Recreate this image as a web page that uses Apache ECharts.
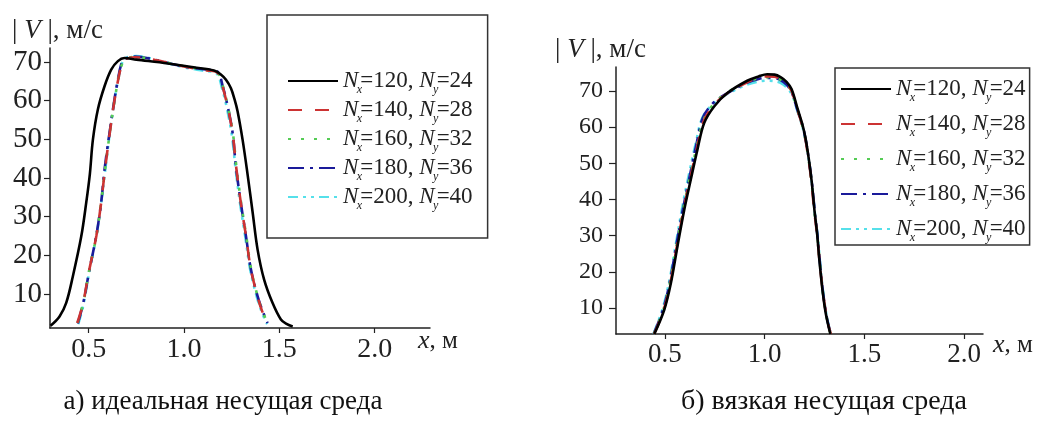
<!DOCTYPE html>
<html>
<head>
<meta charset="utf-8">
<script src="https://cdn.jsdelivr.net/npm/echarts@6/dist/echarts.min.js"></script>
<style>
html,body{margin:0;padding:0;background:#fff;}
#c{width:1043px;height:423px;}
</style>
</head>
<body>
<div id="c"></div>
<script>
// ---- data ----
const nxValues = [120, 140, 160, 180, 200];
const nyValues = [24, 28, 32, 36, 40];
const xTicks = [0.5, 1.0, 1.5, 2.0];
const yTicks = [10, 20, 30, 40, 50, 60, 70];

// (a) ideal carrier medium
const idealN120 = [[0.30,1.8],[0.347,4.2],[0.382,7.7],[0.417,14.6],[0.461,24.9],[0.487,33.6],[0.506,41],[0.522,49.9],[0.548,57.7],[0.583,63.7],[0.618,68],[0.653,70.2],[0.687,71.0],[0.75,70.6],[0.915,69.6],[1.05,68.6],[1.157,67.8],[1.19,66.9],[1.22,65.4],[1.246,63.2],[1.265,60.3],[1.281,57.2],[1.307,49.9],[1.333,41],[1.36,31],[1.386,21.4],[1.42,13.7],[1.464,7.7],[1.508,3.4],[1.54,2.2],[1.57,1.6]];
const idealN140 = [[0.44,2.5],[0.47,7.5],[0.50,15.5],[0.54,25],[0.565,33.5],[0.585,42],[0.61,51.5],[0.635,60],[0.655,65.5],[0.672,69],[0.69,70.6],[0.74,71.2],[0.85,70.5],[1.0,68.8],[1.12,67.8],[1.175,67.2],[1.2,64],[1.228,58.5],[1.255,51.5],[1.273,43],[1.298,33.5],[1.325,25],[1.35,16.5],[1.385,9.5],[1.41,5.5],[1.44,2.3]];
const idealN160 = [[0.442,2.6],[0.472,7.8],[0.502,16],[0.541,25.2],[0.566,34],[0.586,42.3],[0.611,51.8],[0.636,60.2],[0.656,65.7],[0.673,69.2],[0.69,70.7],[0.745,71.3],[0.86,70.3],[1.0,68.9],[1.12,67.9],[1.176,67.3],[1.201,64.2],[1.229,58.7],[1.256,51.7],[1.274,43.2],[1.299,33.7],[1.326,25.1],[1.352,16.4],[1.386,9.4],[1.412,5.4],[1.442,2.2]];
const idealN180 = [[0.443,2.4],[0.471,7.6],[0.504,16.3],[0.539,24.9],[0.565,33.5],[0.583,42.2],[0.609,51.6],[0.635,60.3],[0.653,65.4],[0.67,69.3],[0.687,70.6],[0.74,71.4],[0.845,70.6],[1.0,68.8],[1.124,68],[1.176,67.5],[1.203,63.7],[1.229,58.5],[1.255,51.6],[1.272,43],[1.298,33.5],[1.325,24.9],[1.351,16.3],[1.386,9.4],[1.415,5.2],[1.438,2.5]];
const idealN200 = [[0.445,2.2],[0.473,7.4],[0.503,15.8],[0.542,25.5],[0.567,34.2],[0.588,42.6],[0.612,52.2],[0.637,60.6],[0.657,66],[0.674,69.6],[0.692,71],[0.75,71.5],[0.86,70.4],[1.0,68.6],[1.118,67.6],[1.172,67],[1.198,63.4],[1.225,58],[1.251,51],[1.27,42.5],[1.295,33],[1.322,24.5],[1.348,16],[1.382,9.2],[1.41,5],[1.436,2.2]];

// (б) viscous carrier medium
const viscousN120 = [[0.447,2.8],[0.497,9.5],[0.53,16.8],[0.563,27],[0.597,37.1],[0.63,45.5],[0.663,53.7],[0.697,61.1],[0.747,65.7],[0.813,69.4],[0.913,72.8],[0.97,74],[1.013,74.6],[1.05,74.5],[1.08,73.8],[1.11,72.5],[1.135,70.5],[1.163,65.5],[1.188,61],[1.205,57],[1.222,51],[1.236,45],[1.25,37],[1.263,30.7],[1.275,23],[1.29,15],[1.305,9],[1.32,5],[1.33,2.8]];
const viscousN140 = [[0.446,2.8],[0.495,9.6],[0.528,17],[0.561,27.2],[0.595,37.4],[0.628,46],[0.661,54.2],[0.695,61.6],[0.745,66],[0.81,69.2],[0.91,72.3],[0.97,73.6],[1.015,74],[1.05,73.9],[1.08,73.3],[1.11,72],[1.135,70],[1.162,65.2],[1.187,60.8],[1.204,56.8],[1.221,50.8],[1.235,44.8],[1.249,36.8],[1.263,30.4],[1.276,22.6],[1.292,14.6],[1.307,8.8],[1.322,4.8],[1.332,2.8]];
const viscousN160 = [[0.445,2.8],[0.494,9.8],[0.527,17.3],[0.56,27.6],[0.594,37.8],[0.627,46.4],[0.66,54.6],[0.693,61.8],[0.742,66.2],[0.81,69.4],[0.91,72.4],[0.97,73.5],[1.015,73.8],[1.05,73.7],[1.08,73.1],[1.11,71.8],[1.136,69.8],[1.163,65],[1.188,60.6],[1.205,56.5],[1.222,50.5],[1.236,44.5],[1.25,36.6],[1.264,30.2],[1.277,22.4],[1.292,14.4],[1.307,8.7],[1.322,4.7],[1.331,2.8]];
const viscousN180 = [[0.444,2.8],[0.493,9.9],[0.526,17.5],[0.559,27.8],[0.593,38],[0.626,46.8],[0.658,55.2],[0.69,62.5],[0.738,66.4],[0.808,69.2],[0.91,72.2],[0.97,73.3],[1.015,73.6],[1.05,73.5],[1.08,73],[1.11,71.7],[1.136,69.6],[1.164,64.8],[1.19,60.4],[1.207,56.2],[1.224,50.2],[1.238,44.2],[1.252,36.4],[1.265,30],[1.278,22.2],[1.293,14.2],[1.308,8.6],[1.323,4.6],[1.333,2.8]];
const viscousN200 = [[0.443,2.8],[0.491,10.2],[0.524,17.9],[0.557,28.3],[0.59,38.6],[0.623,47.5],[0.656,55.8],[0.688,62.6],[0.738,66.2],[0.805,68.9],[0.905,71.6],[0.97,72.6],[1.015,72.8],[1.05,72.7],[1.08,72.2],[1.11,71],[1.137,69],[1.165,64.4],[1.19,60],[1.207,56],[1.224,50],[1.238,44],[1.252,36.2],[1.266,29.8],[1.279,22],[1.294,14],[1.309,8.5],[1.324,4.5],[1.334,2.8]];

const idealData = [idealN120, idealN140, idealN160, idealN180, idealN200];
const viscousData = [viscousN120, viscousN140, viscousN160, viscousN180, viscousN200];
const captions = ['а) идеальная несущая среда', 'б) вязкая несущая среда'];

// ---- styles ----
const SERIF = '"Liberation Serif", "Times New Roman", serif';
const colors = ['#000000', '#cc3333', '#55cc55', '#1a1a9a', '#55e0ea'];
const dashes = ['solid', [14, 13], [3, 10], [16, 6, 3, 6], [10, 5, 3, 5, 3, 5]];
const widths = [2.6, 2.6, 2.6, 2.6, 2.6];
const names = nxValues.map((nx, i) => 'Nx=' + nx + ', Ny=' + nyValues[i]);

function legendFmt(name) {
  const m = name.match(/Nx=(\d+), Ny=(\d+)/);
  return '{i|N}{s|x}{r|=' + m[1] + ', }{i|N}{s|y}{r|=' + m[2] + '}';
}
const legendRich = {
  i: { fontFamily: SERIF, fontStyle: 'italic', fontSize: 23, lineHeight: 24, color: '#222' },
  r: { fontFamily: SERIF, fontSize: 23, lineHeight: 24, color: '#222' },
  s: { fontFamily: SERIF, fontStyle: 'italic', fontSize: 12, lineHeight: 10, color: '#222', padding: [18, 0, 0, 0], width: 2, align: 'right' }
};

function makeSeries(dataSets, idx) {
  return dataSets.map((d, i) => ({
    type: 'line',
    name: names[i],
    xAxisIndex: idx, yAxisIndex: idx,
    data: d,
    symbol: 'none',
    smooth: 0.35,
    z: 10 - i,
    lineStyle: { color: colors[i], width: widths[i], type: dashes[i] },
    itemStyle: { color: colors[i] }
  }));
}

function xAxisCfg(idx, min, max, fs, margin) {
  return {
    type: 'value', gridIndex: idx, min: min, max: max,
    name: '{i|x}{r|, м}', nameLocation: 'end',
    nameGap: idx === 0 ? -12 : 10,
    nameTextStyle: { verticalAlign: 'top', padding: [idx === 0 ? 0 : -2, 0, 0, 0], rich: {
      i: { fontFamily: SERIF, fontSize: 26, fontStyle: 'italic', color: '#222' },
      r: { fontFamily: SERIF, fontSize: 25, color: '#222' } } },
    axisLine: { show: true, onZero: false, lineStyle: { color: '#222', width: 1.5 } },
    axisTick: { show: true, customValues: xTicks, length: 5, lineStyle: { color: '#222', width: 1.2 } },
    axisLabel: { customValues: xTicks, formatter: v => v.toFixed(1), fontFamily: SERIF, fontSize: fs, color: '#222', margin: margin },
    splitLine: { show: false }
  };
}
function yAxisCfg(idx, min, max, fs, tickLen, margin, nameShift) {
  return {
    type: 'value', gridIndex: idx, min: min, max: max,
    name: '{b||}{v| V }{b||, м/с}', nameLocation: 'end', nameGap: 4,
    nameTextStyle: { align: 'left', padding: [0, 0, 0, nameShift], rich: {
      b: { fontFamily: SERIF, fontSize: 27, color: '#222' },
      v: { fontFamily: SERIF, fontSize: 27, fontStyle: 'italic', color: '#222' } } },
    axisLine: { show: true, onZero: false, lineStyle: { color: '#222', width: 1.5 } },
    axisTick: { show: true, customValues: yTicks, length: tickLen, lineStyle: { color: '#222', width: 1.2 } },
    axisLabel: { customValues: yTicks, fontFamily: SERIF, fontSize: fs, color: '#222', margin: margin },
    splitLine: { show: false }
  };
}

const chart = echarts.init(document.getElementById('c'), null, { renderer: 'canvas' });
chart.setOption({
  backgroundColor: '#fff',
  animation: false,
  grid: [
    { left: 50, top: 48, width: 380, height: 280 },
    { left: 616, top: 67, width: 367, height: 267 }
  ],
  xAxis: [ xAxisCfg(0, 0.297, 2.29, 28, 8), xAxisCfg(1, 0.255, 2.095, 27, 7) ],
  yAxis: [ yAxisCfg(0, 1.2, 73.6, 29, 6, 8, -38), yAxisCfg(1, 2.8, 76.6, 24, 7, 13, -61) ],
  legend: [
    { data: names, orient: 'vertical', left: 267, top: 15, itemWidth: 50, itemHeight: 2, itemGap: -1,
      padding: [51, 15, 26, 20], borderColor: '#333', borderWidth: 1.5,
      itemStyle: { opacity: 0 },
      formatter: legendFmt, textStyle: { rich: legendRich }, selectedMode: false },
    { data: names, orient: 'vertical', left: 835, top: 68, itemWidth: 50, itemHeight: 2, itemGap: 5,
      padding: [6, 4, 1, 5], borderColor: '#333', borderWidth: 1.5,
      itemStyle: { opacity: 0 },
      formatter: legendFmt, textStyle: { rich: legendRich }, selectedMode: false }
  ],
  graphic: [
    { type: 'text', x: 223, y: 402, style: { text: captions[0], font: '27px ' + SERIF, fill: '#111', textAlign: 'center', textVerticalAlign: 'middle' } },
    { type: 'text', x: 824, y: 402, style: { text: captions[1], font: '28px ' + SERIF, fill: '#111', textAlign: 'center', textVerticalAlign: 'middle' } }
  ],
  series: makeSeries(idealData, 0).concat(makeSeries(viscousData, 1))
});
</script>
</body>
</html>
